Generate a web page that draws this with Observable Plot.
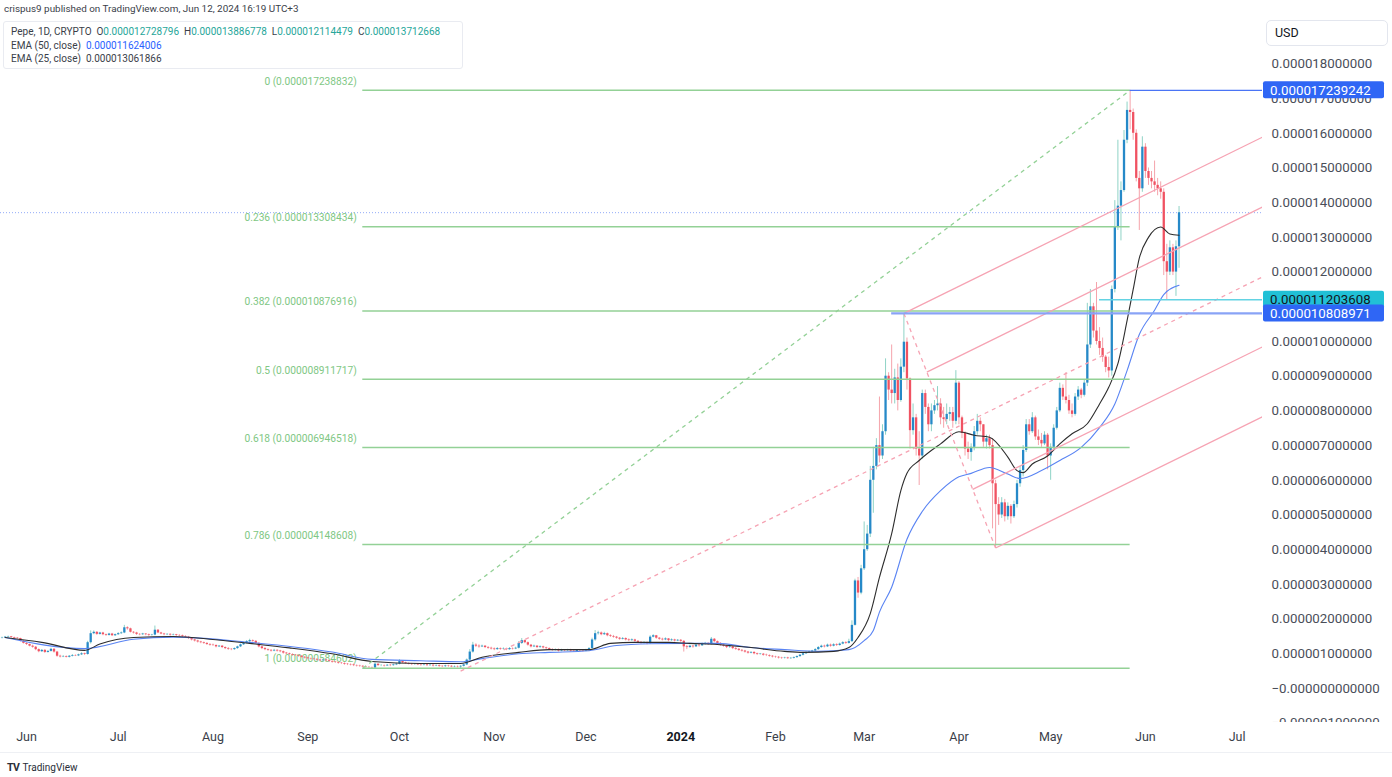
<!DOCTYPE html>
<html>
<head>
<meta charset="utf-8">
<script src="https://cdn.jsdelivr.net/npm/d3@7"></script>
<script src="https://cdn.jsdelivr.net/npm/@observablehq/plot@0.6"></script>
<style>
  body { margin: 0; background: #fff; font-family: Roboto, "Liberation Sans", Arial, sans-serif; }
  #wrap { position: relative; width: 1392px; height: 777px; overflow: hidden; background: #fff; }
  #chart { position: absolute; left: 0; top: 0; }
  .ov { position: absolute; white-space: nowrap; color: #2a2e39; }
  #pub { left: 4px; top: 3px; font-size: 9.9px; color: #3a3e49; }
  #legend { left: 3px; top: 21px; width: 458px; height: 46px; border: 1px solid #e9ebf1; border-radius: 3px; background: rgba(255,255,255,0.85); }
  .lg { position: absolute; left: 7px; font-size: 10px; color: #3a3e49; }
  .g { color: #26a69a; }
  .b { color: #2962ff; }
  #usd { left: 1266px; top: 20px; width: 120px; height: 24px; border: 1px solid #e3e6ee; border-radius: 5px; font-size: 12.5px; line-height: 24px; text-indent: 8px; color: #131722; background: #fff; }
  #cover { left: 1262px; top: 722px; width: 130px; height: 30px; background: #fff; }
  #bottomline { left: 0; top: 752px; width: 1392px; height: 1px; background: #eef0f4; }
  #tv { left: 7px; top: 761px; font-size: 10px; color: #2a2e39; }
  #tv b { font-size: 10.5px; letter-spacing: -0.5px; margin-right: 3px; }
</style>
</head>
<body>
<div id="wrap">
  <div id="chart"></div>
</div>
<script>
// ---------------- DATA (prices in millionths of USD) ----------------
const firstDay = "2023-05-24";          // date of the first daily candle
const firstOpen = 1.45;                 // open of the first candle (others open at previous close)

const closes = [
  1.46,1.48,1.49,1.47,1.45,1.44,1.36,1.30,1.27,1.22,
  1.19,1.12,1.06,1.10,1.04,1.07,1.13,1.05,0.93,0.91,
  0.92,0.90,0.93,0.95,0.94,0.97,1.00,0.98,1.32,1.58,
  1.62,1.56,1.60,1.55,1.53,1.57,1.52,1.55,1.58,1.60,
  1.75,1.72,1.62,1.60,1.56,1.55,1.57,1.55,1.53,1.54,
  1.68,1.60,1.57,1.55,1.56,1.54,1.55,1.53,1.52,1.50,
  1.48,1.44,1.40,1.37,1.34,1.32,1.30,1.27,1.25,1.24,
  1.20,1.22,1.18,1.15,1.13,1.12,1.15,1.20,1.26,1.30,
  1.35,1.38,1.36,1.30,1.20,1.15,1.12,1.10,1.08,1.10,
  1.08,1.06,1.02,1.00,0.98,0.96,0.95,0.93,0.90,0.88,
  0.86,0.85,0.84,0.82,0.80,0.82,0.80,0.78,0.76,0.75,
  0.73,0.72,0.70,0.69,0.68,0.66,0.65,0.64,0.62,0.61,
  0.60,0.59,0.70,0.66,0.66,0.65,0.67,0.66,0.68,0.70,
  0.78,0.74,0.72,0.70,0.69,0.70,0.68,0.67,0.68,0.66,
  0.67,0.65,0.66,0.64,0.63,0.65,0.64,0.62,0.63,0.62,
  0.64,0.68,0.82,1.05,1.25,1.22,1.20,1.22,1.18,1.16,
  1.14,1.12,1.15,1.13,1.14,1.12,1.15,1.14,1.16,1.30,
  1.38,1.32,1.25,1.20,1.22,1.18,1.20,1.17,1.15,1.12,
  1.10,1.12,1.08,1.10,1.09,1.11,1.08,1.07,1.10,1.09,
  1.08,1.11,1.15,1.40,1.58,1.60,1.55,1.58,1.52,1.50,
  1.48,1.45,1.42,1.44,1.40,1.38,1.40,1.36,1.33,1.30,
  1.32,1.29,1.48,1.52,1.45,1.42,1.40,1.43,1.38,1.40,
  1.37,1.39,1.36,1.20,1.18,1.22,1.20,1.25,1.23,1.28,
  1.30,1.27,1.42,1.35,1.30,1.25,1.22,1.18,1.20,1.15,
  1.13,1.10,1.08,1.05,1.02,1.04,1.00,0.98,0.99,0.96,
  0.95,0.93,0.91,0.90,0.88,0.87,0.88,0.86,0.87,0.89,
  0.92,0.96,1.00,1.03,1.05,1.08,1.12,1.18,1.22,1.20,
  1.25,1.22,1.26,1.24,1.28,1.32,1.30,1.35,1.82,3.10,
  2.75,3.45,4.00,4.45,6.00,6.40,7.00,6.70,7.40,9.00,
  8.60,8.50,8.95,8.30,9.26,9.98,8.92,7.43,7.80,6.90,
  6.70,8.50,8.10,7.60,8.00,8.15,8.20,7.80,7.75,7.90,
  7.95,7.70,8.80,7.80,7.35,6.90,6.80,6.95,7.40,7.70,
  7.60,7.10,7.20,7.00,5.90,5.30,5.00,5.35,4.95,5.25,
  4.95,5.30,5.90,6.28,6.86,7.60,7.40,7.80,7.25,7.15,
  7.05,7.30,6.70,6.95,7.50,8.00,8.65,8.40,8.30,8.00,
  7.90,8.40,8.60,8.45,8.80,9.90,11.00,10.30,10.00,9.80,
  9.55,9.25,9.15,11.50,13.30,13.90,14.35,15.80,16.66,16.60,
  16.00,14.70,14.40,15.60,14.90,14.70,14.60,14.50,14.40,14.30,
  12.30,12.00,12.70,12.00,12.73,13.71
];

const highs = [
  1.48,1.50,1.51,1.50,1.48,1.47,1.45,1.38,1.32,1.28,
  1.25,1.21,1.14,1.12,1.12,1.09,1.16,1.15,1.07,0.96,
  0.95,0.94,0.95,0.98,0.97,0.99,1.03,1.02,1.36,1.66,
  1.66,1.64,1.62,1.62,1.57,1.59,1.59,1.57,1.61,1.63,
  1.82,1.78,1.74,1.64,1.62,1.58,1.59,1.58,1.57,1.56,
  1.80,1.70,1.62,1.59,1.58,1.58,1.57,1.56,1.55,1.54,
  1.52,1.50,1.46,1.42,1.39,1.36,1.34,1.32,1.29,1.28,
  1.26,1.24,1.24,1.20,1.18,1.15,1.17,1.22,1.28,1.33,
  1.38,1.42,1.40,1.38,1.32,1.22,1.18,1.14,1.12,1.13,
  1.12,1.10,1.08,1.04,1.02,1.00,0.98,0.97,0.95,0.92,
  0.90,0.88,0.87,0.86,0.84,0.84,0.84,0.82,0.80,0.78,
  0.77,0.75,0.74,0.72,0.71,0.70,0.68,0.67,0.66,0.64,
  0.63,0.62,0.74,0.71,0.69,0.68,0.69,0.69,0.70,0.73,
  0.83,0.80,0.76,0.74,0.72,0.72,0.72,0.70,0.70,0.70,
  0.70,0.69,0.68,0.68,0.66,0.67,0.67,0.66,0.65,0.65,
  0.66,0.70,0.85,1.12,1.33,1.29,1.26,1.25,1.24,1.21,
  1.19,1.17,1.18,1.17,1.17,1.16,1.18,1.17,1.19,1.35,
  1.44,1.40,1.34,1.27,1.25,1.24,1.23,1.22,1.19,1.17,
  1.15,1.14,1.14,1.13,1.12,1.13,1.13,1.10,1.12,1.12,
  1.12,1.13,1.18,1.45,1.67,1.65,1.63,1.62,1.60,1.55,
  1.53,1.50,1.47,1.47,1.46,1.43,1.43,1.42,1.38,1.35,
  1.35,1.34,1.52,1.55,1.53,1.47,1.45,1.46,1.44,1.43,
  1.42,1.41,1.41,1.38,1.24,1.25,1.24,1.28,1.27,1.31,
  1.33,1.32,1.47,1.44,1.37,1.32,1.28,1.24,1.23,1.22,
  1.18,1.15,1.12,1.10,1.07,1.06,1.06,1.02,1.01,1.01,
  0.99,0.97,0.95,0.93,0.92,0.90,0.90,0.90,0.89,0.91,
  0.94,0.98,1.02,1.06,1.08,1.10,1.15,1.21,1.25,1.25,
  1.28,1.28,1.29,1.29,1.31,1.35,1.35,1.42,1.95,3.15,
  3.20,3.55,4.80,4.70,6.40,6.95,7.20,8.40,7.60,9.50,
  9.10,9.90,9.20,9.35,9.50,10.81,10.10,8.95,8.20,7.90,
  7.40,8.60,8.60,8.20,8.20,8.30,8.70,8.35,8.10,8.20,
  8.10,8.10,9.16,8.85,7.85,7.40,7.10,7.05,7.55,7.90,
  7.80,7.60,7.30,7.30,7.20,6.00,5.50,5.50,5.45,5.35,
  5.30,5.40,6.00,6.40,7.00,7.75,7.75,7.95,7.85,7.45,
  7.35,7.40,7.35,7.05,7.60,8.10,8.80,8.75,9.10,8.45,
  8.20,8.50,8.70,8.65,8.90,11.10,11.50,11.10,11.70,10.40,
  10.10,9.60,9.55,11.60,14.06,15.80,14.60,16.08,16.90,17.24,
  16.70,16.10,14.90,15.90,15.70,15.00,14.90,15.20,14.70,14.60,
  14.40,12.80,12.90,12.80,12.90,13.89
];

const lows = [
  1.43,1.45,1.46,1.45,1.43,1.42,1.34,1.28,1.24,1.20,
  1.16,1.09,1.03,1.04,1.01,1.02,1.05,1.02,0.90,0.88,
  0.89,0.88,0.88,0.91,0.92,0.92,0.95,0.95,0.96,1.28,
  1.55,1.53,1.54,1.52,1.50,1.51,1.50,1.50,1.53,1.56,
  1.58,1.68,1.60,1.57,1.53,1.52,1.53,1.52,1.50,1.51,
  1.52,1.58,1.55,1.52,1.53,1.51,1.52,1.50,1.49,1.47,
  1.45,1.41,1.37,1.34,1.31,1.29,1.27,1.24,1.22,1.21,
  1.17,1.18,1.15,1.12,1.10,1.09,1.10,1.13,1.18,1.24,
  1.28,1.33,1.33,1.27,1.17,1.12,1.09,1.07,1.05,1.06,
  1.05,1.03,0.99,0.97,0.95,0.93,0.92,0.90,0.87,0.85,
  0.83,0.82,0.81,0.79,0.77,0.78,0.77,0.75,0.73,0.72,
  0.70,0.69,0.67,0.66,0.65,0.63,0.62,0.61,0.60,0.585,
  0.59,0.585,0.58,0.64,0.63,0.62,0.64,0.63,0.64,0.66,
  0.68,0.72,0.70,0.68,0.66,0.67,0.66,0.64,0.65,0.63,
  0.64,0.62,0.63,0.61,0.60,0.61,0.61,0.60,0.60,0.59,
  0.57,0.62,0.66,0.80,1.02,1.18,1.16,1.18,1.15,1.13,
  1.11,1.09,1.10,1.10,1.11,1.09,1.10,1.11,1.12,1.14,
  1.27,1.29,1.22,1.17,1.18,1.15,1.16,1.14,1.12,1.09,
  1.07,1.08,1.05,1.06,1.06,1.07,1.05,1.04,1.05,1.06,
  1.05,1.06,1.09,1.13,1.36,1.54,1.52,1.53,1.49,1.47,
  1.45,1.42,1.39,1.40,1.37,1.35,1.36,1.33,1.30,1.27,
  1.28,1.26,1.27,1.46,1.42,1.39,1.37,1.38,1.35,1.36,
  1.34,1.35,1.33,1.05,1.12,1.16,1.16,1.18,1.19,1.21,
  1.25,1.24,1.25,1.32,1.27,1.22,1.19,1.15,1.16,1.12,
  1.10,1.07,1.05,1.02,0.99,1.00,0.97,0.95,0.96,0.93,
  0.92,0.90,0.88,0.87,0.85,0.84,0.85,0.84,0.84,0.85,
  0.87,0.90,0.94,0.98,1.01,1.03,1.06,1.10,1.16,1.17,
  1.18,1.19,1.20,1.21,1.22,1.26,1.27,1.28,1.33,1.80,
  2.60,2.70,3.40,3.95,4.35,5.05,6.30,6.50,6.60,7.30,
  8.30,8.20,8.20,8.00,8.25,9.10,8.60,6.90,7.30,6.70,
  5.85,6.60,7.90,7.40,7.40,7.90,8.00,7.60,7.50,7.60,
  7.70,7.50,7.60,7.60,7.20,6.70,6.60,6.55,6.85,7.30,
  7.40,6.95,6.90,6.90,4.60,4.05,4.70,4.90,4.80,4.85,
  4.74,4.90,5.20,5.80,6.10,6.80,7.30,7.35,7.15,7.00,
  6.95,7.00,6.30,6.00,6.85,7.45,7.95,8.30,8.20,7.90,
  7.80,7.85,8.30,8.35,8.40,8.70,9.80,10.10,9.90,9.60,
  9.40,9.10,8.95,9.00,11.40,13.20,12.90,14.30,15.70,16.10,
  15.80,14.60,13.20,14.30,14.70,14.50,14.40,14.30,14.20,14.10,
  11.90,11.20,11.90,11.90,11.30,12.11
];

// EMA lines (day offset from firstDay, value)
const ema25Days = [1,13,27,32,43,56,68,81,94,108,121,137,150,157,169,179,192,199,207,218,225,234,245,256,262,272,277,280,284,287,291,294,296,300,307,313,318,323,329,332,334,337,342,346,350,355,359,362,365,368,370,372,375,379,382,385];
const ema25Vals = [1.47,1.33,1.10,1.28,1.47,1.50,1.42,1.30,1.17,1.00,0.78,0.72,0.72,0.90,1.04,1.12,1.12,1.30,1.33,1.33,1.30,1.27,1.18,1.07,1.04,1.07,1.18,1.47,2.16,3.20,4.46,5.70,6.20,6.57,7.05,7.40,7.30,7.24,6.67,6.28,6.22,6.47,6.70,7.05,7.34,7.63,8.20,8.68,9.36,10.60,11.50,12.40,13.00,13.30,13.10,13.06];
const ema50Days = [1,27,43,56,81,108,121,137,150,157,169,179,192,201,212,223,234,245,256,267,277,282,285,287,291,296,301,307,313,317,323,329,333,340,346,353,359,364,368,372,377,380,385];
const ema50Vals = [1.47,1.15,1.42,1.48,1.33,1.05,0.84,0.80,0.77,0.86,1.00,1.04,1.09,1.24,1.29,1.30,1.30,1.18,1.12,1.07,1.12,1.38,1.67,2.20,2.92,4.30,5.10,5.70,6.10,6.20,6.37,6.18,6.05,6.28,6.57,6.95,7.52,8.20,9.16,10.20,10.90,11.35,11.62];

// Fibonacci retracement
const fibDates = ["2023-09-19", "2024-05-27"];
const fibRatios = ["0", "0.236", "0.382", "0.5", "0.618", "0.786", "1"];
const fibPrices = [17.238832, 13.308434, 10.876916, 8.911717, 6.946518, 4.148608, 0.584602];

// Pitchfork anchors
const pfDates = ["2023-10-21", "2024-03-14", "2024-04-13"];
const pfPrices = [0.50, 10.809, 4.05];

// Horizontal rays with price labels
const rayStarts = ["2024-05-27", "2024-05-17", "2024-03-10"];
const rayPrices = [17.239242, 11.203608, 10.808971];
const lastClose = 13.712668;

// Axes
const yTicks = [-1,0,1,2,3,4,5,6,7,8,9,10,11,12,13,14,15,16,17,18];
const monthDates = ["2023-06-01","2023-07-01","2023-08-01","2023-09-01","2023-10-01","2023-11-01","2023-12-01","2024-01-01","2024-02-01","2024-03-01","2024-04-01","2024-05-01","2024-06-01","2024-07-01"];
const monthLabels = ["Jun","Jul","Aug","Sep","Oct","Nov","Dec","2024","Feb","Mar","Apr","May","Jun","Jul"];

// Header texts
const publishLine = "crispus9 published on TradingView.com, Jun 12, 2024 16:19 UTC+3";
const ohlcText = ["0.000012728796", "0.000013886778", "0.000012114479", "0.000013712668"];
const ema50Text = "0.000011624006";
const ema25Text = "0.000013061866";

// ---------------- BUILD ----------------
const DAY = 864e5;
const t0 = +new Date(firstDay);
const candles = closes.map((c, i) => ({
  date: new Date(t0 + i * DAY),
  open: i ? closes[i - 1] : firstOpen,
  high: highs[i], low: lows[i], close: c
}));
const up = candles.filter(d => d.close >= d.open);
const down = candles.filter(d => d.close < d.open);
const ema25 = ema25Days.map((d, i) => ({date: new Date(t0 + d * DAY), v: ema25Vals[i]}));
const ema50 = ema50Days.map((d, i) => ({date: new Date(t0 + d * DAY), v: ema50Vals[i]}));

const xMin = new Date(t0 - 0.505 * DAY), xMax = new Date(t0 + 412.3 * DAY);

const fmt = v => (v <= 0 ? "\u2212" : "") + (Math.abs(v) / 1e6).toFixed(12);

const fibStart = new Date(fibDates[0]), fibEnd = new Date(fibDates[1]);
const fibRows = fibPrices.map((p, i) => ({price: p, label: `${fibRatios[i]} (${(p / 1e6).toFixed(12)})`}));
const fibDiag = [{x1: fibStart, y1: fibPrices[6], x2: fibEnd, y2: fibPrices[0]}];

const pfT = pfDates.map(d => +new Date(d));
const [pt1, pt2, pt3] = pfT, [pv1, pv2, pv3] = pfPrices;
const ptm = (pt2 + pt3) / 2, pvm = (pv2 + pv3) / 2;
const slope = (pvm - pv1) / (ptm - pt1);
const tEnd = +xMax + 3 * DAY;
const ext = (t, v) => ({x1: new Date(t), y1: v, x2: new Date(tEnd), y2: v + slope * (tEnd - t)});
const tines = [ext(pt2, pv2), ext((pt2 + ptm) / 2, (pv2 + pvm) / 2), ext((ptm + pt3) / 2, (pvm + pv3) / 2), ext(pt3, pv3)];
const median = [ext(pt1, pv1)];
const handle = [{x1: new Date(pt2), y1: pv2, x2: new Date(pt3), y2: pv3}];

const rays = rayPrices.map((p, i) => ({price: p, start: new Date(rayStarts[i])}));
const months = monthDates.map((d, i) => ({date: new Date(d), label: monthLabels[i]}));

const upBody = "#2689c8", upWick = "#8fd3c6", dnBody = "#f05262", dnWick = "#f5a3ab";
const fibColor = "#93d196", pink = "#f6a3b3";

const chart = Plot.plot({
  width: 1392, height: 752,
  marginLeft: 0, marginRight: 130, marginTop: 0, marginBottom: 24,
  style: {fontFamily: "Roboto, 'Liberation Sans', sans-serif", fontSize: "13px", background: "transparent", overflow: "visible"},
  x: {type: "utc", domain: [xMin, xMax], axis: null},
  y: {domain: [-1.1527, 19.827], axis: null},
  marks: [
    // price line (dotted)
    Plot.ruleY([lastClose], {y: d => d, stroke: "#6d8ff5", strokeOpacity: 0.75, strokeWidth: 1, strokeDasharray: "1,2"}),
    // Fibonacci level labels (under the candles, as in the reference)
    Plot.text(fibRows, {x: () => fibStart, y: "price", text: "label", textAnchor: "end", dx: -6, dy: -9, fill: "#80c784", fontSize: 10.2}),
    // candles
    Plot.ruleX(up, {x: "date", y1: "low", y2: "high", stroke: upWick, strokeWidth: 1}),
    Plot.ruleX(down, {x: "date", y1: "low", y2: "high", stroke: dnWick, strokeWidth: 1}),
    Plot.ruleX(up, {x: "date", y1: "open", y2: "close", stroke: upBody, strokeWidth: 2.3}),
    Plot.ruleX(down, {x: "date", y1: "open", y2: "close", stroke: dnBody, strokeWidth: 2.3}),
    // EMAs
    Plot.line(ema50, {x: "date", y: "v", stroke: "#5a84f3", strokeWidth: 1.1, curve: "monotone-x"}),
    Plot.line(ema25, {x: "date", y: "v", stroke: "#2d2d2d", strokeWidth: 1.1, curve: "monotone-x"}),
    // Fibonacci retracement
    Plot.link(fibDiag, {x1: "x1", y1: "y1", x2: "x2", y2: "y2", stroke: fibColor, strokeWidth: 1.3, strokeDasharray: "4,4"}),
    Plot.ruleY(fibRows, {y: "price", x1: () => fibStart, x2: () => fibEnd, stroke: fibColor, strokeWidth: 1.6}),
    // Pitchfork
    Plot.link(handle, {x1: "x1", y1: "y1", x2: "x2", y2: "y2", stroke: pink, strokeWidth: 1.3, strokeDasharray: "4,4"}),
    Plot.link(median, {x1: "x1", y1: "y1", x2: "x2", y2: "y2", stroke: pink, strokeWidth: 1.3, strokeDasharray: "4,4", clip: true}),
    Plot.link(tines, {x1: "x1", y1: "y1", x2: "x2", y2: "y2", stroke: pink, strokeWidth: 1.3, clip: true}),
    // Horizontal rays
    Plot.ruleY(rays.slice(2), {y: "price", x1: "start", x2: () => xMax, stroke: "#89a3f6", strokeWidth: 2.2}),
    Plot.ruleY(rays.slice(1, 2), {y: "price", x1: "start", x2: () => xMax, stroke: "#63d3e3", strokeWidth: 1.6}),
    Plot.ruleY(rays.slice(0, 1), {y: "price", x1: "start", x2: () => xMax, stroke: "#4a74f5", strokeWidth: 1.3}),
    // Axes
    Plot.axisY(yTicks.filter(v => v !== 17 && v !== 11), {anchor: "right", tickSize: 0, tickPadding: 9, tickFormat: fmt, color: "#4a4e59", fontSize: 13.3}),
    Plot.text(months.filter(d => d.label !== "2024"), {x: "date", text: "label", frameAnchor: "bottom", dy: 12, fill: "#3a3e49", fontSize: 12.5}),
    Plot.text(months.filter(d => d.label === "2024"), {x: "date", text: "label", frameAnchor: "bottom", dy: 12, fill: "#131722", fontSize: 12.5, fontWeight: "bold"})
  ]
});
document.getElementById("chart").appendChild(chart);

// The 17 tick label peeks out under the blue peak label box, as in the reference
const ys = chart.scale("y");
const svg = d3.select(chart);
svg.append("text").attr("x", 1271).attr("y", ys.apply(17)).attr("dy", "0.36em").attr("text-anchor", "start")
  .attr("fill", "#4a4e59").attr("font-size", 13.3).attr("font-family", "Roboto, 'Liberation Sans', sans-serif").text(fmt(17));

// price label boxes on the axis, positioned through the plot's y scale
const boxes = [
  {v: rayPrices[1], bg: "#21c0d6", fg: "#131722"},
  {v: rayPrices[2], bg: "#2f66f5", fg: "#ffffff"},
  {v: rayPrices[0], bg: "#2f66f5", fg: "#ffffff"}
];
boxes.forEach(b => {
  const cy = ys.apply(b.v);
  svg.append("rect").attr("x", 1263).attr("y", cy - 8.5).attr("width", 121).attr("height", 17).attr("rx", 2).attr("fill", b.bg);
  svg.append("text").attr("x", 1270).attr("y", cy).attr("dy", "0.36em").attr("text-anchor", "start").attr("fill", b.fg)
    .attr("font-size", 13.3).attr("font-family", "Roboto, 'Liberation Sans', sans-serif").text(fmt(b.v));
});

// overlays
const wrap = document.getElementById("wrap");
function add(id, html) { const d = document.createElement("div"); d.className = "ov"; d.id = id; d.innerHTML = html; wrap.appendChild(d); return d; }
add("cover", "");
add("bottomline", "");
add("pub", publishLine);
const lg = add("legend", "");
lg.innerHTML =
  `<div class="lg" style="top:4px">Pepe, 1D, CRYPTO&nbsp;&nbsp;O<span class="g">${ohlcText[0]}</span>&nbsp;&nbsp;H<span class="g">${ohlcText[1]}</span>&nbsp;&nbsp;L<span class="g">${ohlcText[2]}</span>&nbsp;&nbsp;C<span class="g">${ohlcText[3]}</span></div>` +
  `<div class="lg" style="top:18px">EMA (50, close)&nbsp;&nbsp;<span class="b">${ema50Text}</span></div>` +
  `<div class="lg" style="top:31px">EMA (25, close)&nbsp;&nbsp;<span>${ema25Text}</span></div>`;
add("usd", "USD");
add("tv", "<b>TV</b>TradingView");
</script>
</body>
</html>
